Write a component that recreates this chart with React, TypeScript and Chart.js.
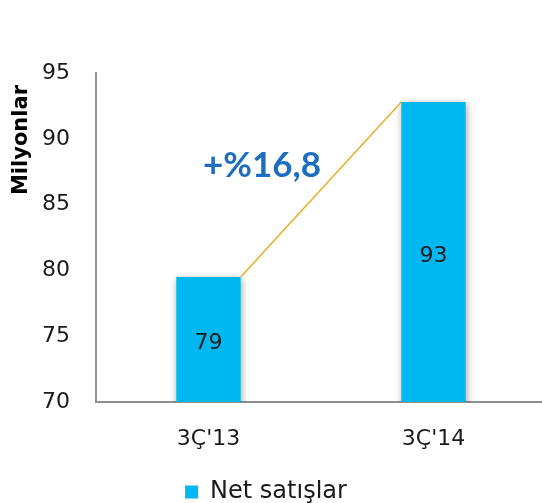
import React, { useEffect, useRef } from "react";
import { Chart, registerables } from "chart.js";

Chart.register(...registerables);

const categories = ["3Ç'13", "3Ç'14"];
const netSales = [79.5, 92.8];
const barLabels = ["79", "93"];
const growthLabel = "+%16,8";
const seriesName = "Net satışlar";
const yTitle = "Milyonlar";
const yMin = 70;
const yMax = 95;
const yStep = 5;

const BAR = "#00B8F1";
const LINE = "#E6B12A";
const AXIS = "#8F8F8F";
const TXT = "#1A1A1A";
const FONT = "'DejaVu Sans', sans-serif";

const overlay = {
  id: "overlay",
  beforeDatasetsDraw(chart: any) {
    const ctx = chart.ctx;
    ctx.save();
    ctx.shadowColor = "rgba(0,0,0,0.35)";
    ctx.shadowBlur = 7;
    ctx.shadowOffsetX = 1;
    ctx.shadowOffsetY = 1;
  },
  afterDatasetsDraw(chart: any) {
    const ctx = chart.ctx;
    ctx.restore();
    const bars = chart.getDatasetMeta(0).data;
    const b0 = bars[0];
    const b1 = bars[1];
    const x0 = b0.x + b0.width / 2;
    const y0 = b0.y;
    const x1 = b1.x - b1.width / 2;
    const y1 = b1.y;
    ctx.save();
    ctx.strokeStyle = LINE;
    ctx.lineWidth = 1.6;
    ctx.beginPath();
    ctx.moveTo(x0, y0);
    ctx.lineTo(x1, y1);
    ctx.stroke();

    // value labels inside bars
    ctx.fillStyle = TXT;
    ctx.font = `22px ${FONT}`;
    ctx.textAlign = "center";
    ctx.textBaseline = "middle";
    const base = chart.scales.y.getPixelForValue(yMin);
    bars.forEach((b: any, i: number) => {
      ctx.fillText(barLabels[i], b.x, (b.y + base) / 2 + 4);
    });

    // growth annotation
    const mx = (x0 + x1) / 2;
    const my = (y0 + y1) / 2;
    ctx.fillStyle = "#1B6EC0";
    ctx.font = `bold 35px Lato, sans-serif`;
    ctx.fillText(growthLabel, mx - 59, my - 24);

    // y title
    ctx.fillStyle = "#000";
    ctx.font = `bold 21px ${FONT}`;
    ctx.translate(22, 140);
    ctx.rotate(-Math.PI / 2);
    ctx.fillText(yTitle, 0, 0);
    ctx.restore();
  },
};

export default function App() {
  const ref = useRef<HTMLCanvasElement>(null);
  useEffect(() => {
    if (!ref.current) return;
    const chart = new Chart(ref.current, {
      type: "bar",
      data: {
        labels: categories,
        datasets: [
          {
            label: seriesName,
            data: netSales,
            backgroundColor: BAR,
            borderWidth: 0,
            categoryPercentage: 1,
            barPercentage: 0.286,
          },
        ],
      },
      options: {
        animation: false,
        responsive: false,
        layout: { padding: { top: 73, left: -14, right: 0, bottom: -11 } },
        plugins: {
          tooltip: { enabled: false },
          legend: {
            position: "bottom",
            labels: {
              boxWidth: 13,
              boxHeight: 13,
              padding: 0,
              color: TXT,
              font: { family: FONT, size: 24 },
            },
          },
        },
        scales: {
          x: {
            grid: { display: false, drawTicks: false },
            border: { display: true, color: AXIS, width: 2 },
            ticks: { color: TXT, padding: 24, font: { family: FONT, size: 22 } },
            afterFit: (s: any) => {
              s.height = 78;
            },
          },
          y: {
            min: yMin,
            max: yMax,
            grid: { display: false, drawTicks: false },
            border: { display: true, color: AXIS, width: 2 },
            ticks: { stepSize: yStep, color: TXT, padding: 26, font: { family: FONT, size: 22 } },
            afterFit: (s: any) => {
              s.width = 110;
            },
          },
        },
      },
      plugins: [overlay],
    });
    return () => chart.destroy();
  }, []);
  return (
    <div style={{ position: "fixed", left: 0, top: 0, width: 542, height: 503, overflow: "hidden", background: "#fff" }}>
      <canvas ref={ref} width={546} height={503} />
    </div>
  );
}
